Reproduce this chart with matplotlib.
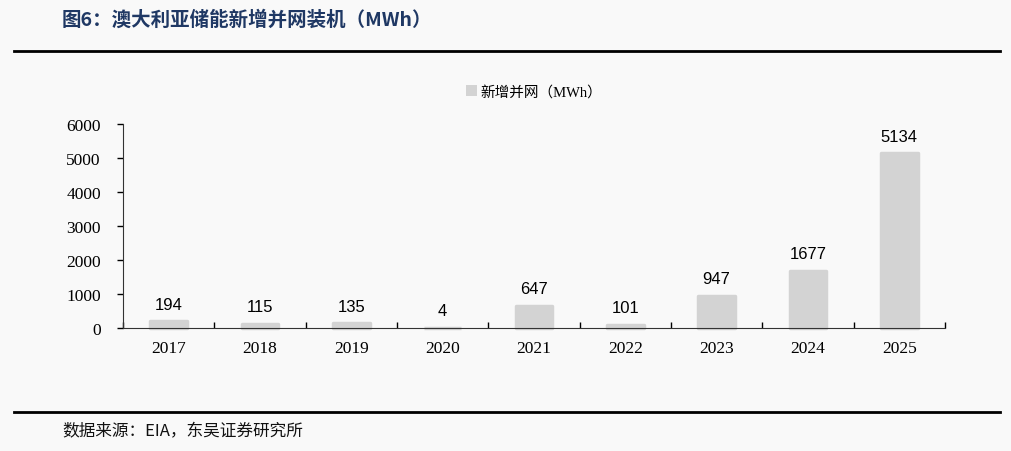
import matplotlib.pyplot as plt
from matplotlib.patches import Patch
from matplotlib.lines import Line2D

# Dados
anos = ["2017", "2018", "2019", "2020", "2021", "2022", "2023", "2024", "2025"]
novos_mwh = [194, 115, 135, 4, 647, 101, 947, 1677, 5134]
yticks = [0, 1000, 2000, 3000, 4000, 5000, 6000]

CJK = ["Noto Sans CJK SC", "DejaVu Sans"]
SERIF = ["Liberation Serif", "Noto Sans CJK SC"]
BG = "#f9f9f9"
BAR = "#d3d3d3"

fig = plt.figure(figsize=(10.12, 4.52), dpi=100, facecolor=BG)

# Título e linhas
fig.text(62 / 1012, 1 - 20 / 452, "图6：澳大利亚储能新增并网装机（MWh）",
         family=CJK, fontsize=14, fontweight="bold", color="#1f3864",
         ha="left", va="center")
fig.add_artist(Line2D([14 / 1012, 1000 / 1012], [1 - 52 / 452] * 2,
                      color="black", lw=2))
fig.add_artist(Line2D([14 / 1012, 1000 / 1012], [1 - 413 / 452] * 2,
                      color="black", lw=2))
fig.text(62 / 1012, 1 - 432 / 452, "数据来源：EIA，东吴证券研究所",
         family=CJK, fontsize=12, color="#111111", ha="left", va="center")

# Gráfico
ax = fig.add_axes([123 / 1012, 1 - 329 / 452, 822 / 1012, 204 / 452])
ax.set_facecolor(BG)
x = list(range(len(anos)))
bars = ax.bar(x, novos_mwh, width=0.40, color=BAR, edgecolor=BAR,
              linewidth=2.5, joinstyle="round", zorder=1, clip_on=False)
for xi, v in zip(x, novos_mwh):
    ax.annotate(str(v), (xi, v), xytext=(0, 7), textcoords="offset points",
                ha="center", va="bottom", family="Liberation Sans",
                fontsize=12, color="black")

ax.set_xlim(-0.5, len(anos) - 0.5)
ax.set_ylim(0, 6000)
ax.set_yticks(yticks)
ax.set_yticklabels([str(t) for t in yticks], family=SERIF, fontsize=12.5)
ax.set_xticks(x)
ax.set_xticklabels(anos, family=SERIF, fontsize=12.5)
ax.tick_params(axis="x", length=0, pad=9)
ax.tick_params(axis="y", length=4, width=1, direction="out", pad=12)
# marcas entre categorias
ax.set_xticks([i + 0.5 for i in range(-1, len(anos))], minor=True)
ax.tick_params(axis="x", which="minor", length=4, width=1, direction="in")

for s in ["top", "right"]:
    ax.spines[s].set_visible(False)
ax.spines["left"].set_color("#333333")
ax.spines["bottom"].set_color("#333333")

# Legenda
leg = ax.legend(handles=[Patch(facecolor=BAR, label="新增并网（MWh）")],
                loc="center", bbox_to_anchor=(0.5, 1 + 32 / 204),
                frameon=False, prop={"family": SERIF, "size": 10.5},
                handlelength=0.8, handleheight=0.8, handletextpad=0.2)

fig.savefig("out.png", dpi=100, facecolor=BG)
